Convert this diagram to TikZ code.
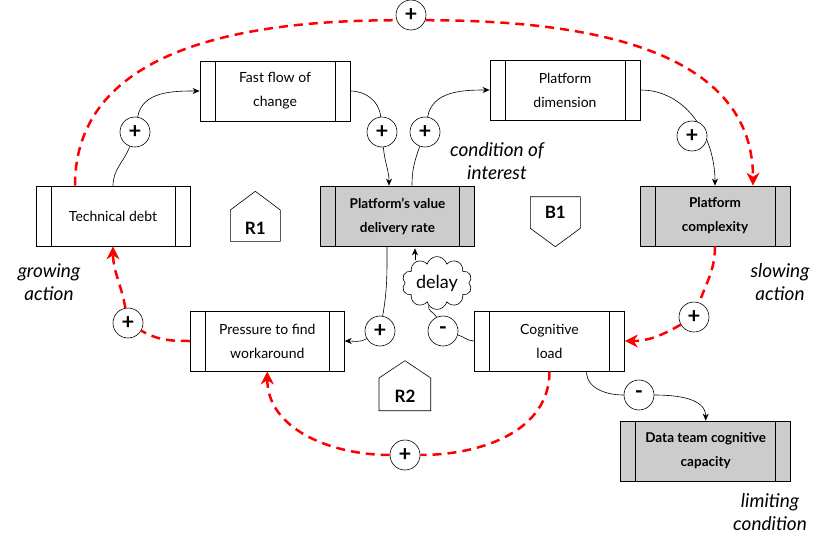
\documentclass[tikz,border=0pt]{standalone}
\usepackage{fontspec}
\setmainfont{Lato}
\usetikzlibrary{shapes.symbols,arrows.meta}
\definecolor{boxgrey}{HTML}{CCCCCC}
\tikzset{
  proc/.style={draw, thick, minimum height=60pt, inner sep=0pt, align=center,
    font=\fontsize{14}{24}\selectfont,
    path picture={\draw ([xshift=15pt]path picture bounding box.north west) -- ([xshift=15pt]path picture bounding box.south west)
      ([xshift=-15pt]path picture bounding box.north east) -- ([xshift=-15pt]path picture bounding box.south east);}},
  goal/.style={proc, fill=boxgrey, font=\bfseries\fontsize{13.5}{24}\selectfont},
  sign/.style={circle, draw, fill=white, minimum size=30pt, inner sep=0pt, font=\bfseries\fontsize{22}{22}\selectfont},
  link/.style={-{Stealth[length=7pt,width=6pt]}},
  push/.style={red, line width=2.5pt, dash pattern=on 9pt off 6pt, -{Stealth[length=13pt,width=13pt]}},
  pushline/.style={red, line width=2.5pt, dash pattern=on 9pt off 6pt},
  remark/.style={align=center, font=\itshape\fontsize{19}{23}\selectfont},
  loopname/.style={font=\bfseries\fontsize{17}{17}\selectfont}
}

\begin{document}
\begin{tikzpicture}[x=1pt, y=-1pt, semithick]
\useasboundingbox (0,0) rectangle (828,536);
% Variables
    \node[proc, minimum width=154pt] (td) at (113,216) {Technical debt};
    \node[proc, minimum width=150pt] (ff) at (275,91) {Fast flow of\\change};
    \node[proc, minimum width=150pt] (pd) at (565,90) {Platform\\dimension};
    \node[goal, minimum width=154pt] (pvdr) at (397.5,216) {Platform's value\\delivery rate};
    \node[goal, minimum width=150pt] (pc) at (715,216) {Platform\\complexity};
    \node[proc, minimum width=154pt] (pr) at (267.3,341) {Pressure to find\\workaround};
    \node[proc, minimum width=150pt] (cl) at (549.5,341) {Cognitive\\load};
    \node[goal, minimum width=170pt] (dt) at (705.7,451) {Data team cognitive\\capacity};
% Delay
    \node[cloud, cloud puffs=10, aspect=1.45, draw, fill=white, minimum width=70pt, minimum height=50pt,
      inner sep=0pt, font=\fontsize{18}{18}\selectfont] (delay) at (437,283) {delay};
% Polarities
    \node[sign] (s0) at (411,15) {+};
    \node[sign] (s1) at (135,132) {+};
    \node[sign] (s2) at (382,132) {+};
    \node[sign] (s3) at (425,132) {+};
    \node[sign] (s5) at (380,331) {+};
    \node[sign] (s6) at (443,331) {-};
    \node[sign] (s7) at (405,455) {+};
    \node[sign] (s8) at (128,323) {+};
    \node[sign] (s9) at (694,317) {+};
    \node[sign] (s10) at (639,395) {-};
% Links
    \draw (td.north) to[out=90,in=-110] (s1);
    \draw[link] (s1) to[out=80,in=180] (ff.west);
    \draw (ff.east) to[out=0,in=95] (s2);
    \draw[link] (s2) to[out=-85,in=90] ([xshift=-8.5pt]pvdr.north);
    \draw ([xshift=14.5pt]pvdr.north) to[out=90,in=-110] (s3);
    \draw[link] (s3) to[out=80,in=180] (pd.west);
    \draw[link] (pd.east) to[out=0,in=90] (pc.north);
    \draw ([xshift=-10.5pt]pvdr.south) to[out=-90,in=80] (s5);
    \draw[link] (s5) to[out=-150,in=0] (pr.east);
    \draw (cl.west) to[out=180,in=-15] (s6);
    \draw (s6) to[out=115,in=-110] (delay);
    \draw[link] ([xshift=-22pt,yshift=-4pt]delay.north) -- ([xshift=17.5pt,yshift=-2pt]pvdr.south);
    \draw ([xshift=37pt]cl.south) to[out=-90,in=180] (s10);
    \draw[link] (s10) to[out=0,in=90] (dt.north);
    \node[sign] (s4) at (692,136) {+};
% Red dashed links
    \draw[pushline] ([xshift=-38pt]td.north) to[out=90,in=180] (s0.200);
    \draw[push] (s0.-20) to[out=0,in=90] ([xshift=38pt]pc.north);
    \draw[pushline] (pc.south) to[out=-90,in=70] (s9);
    \draw[push] (s9) to[out=-150,in=0] (cl.east);
    \draw[pushline] (cl.south) to[out=-90,in=0] (s7);
    \draw[push] (s7) to[out=180,in=-90] (pr.south);
    \draw[pushline] (pr.west) to[out=180,in=-30] (s8);
    \draw[push] (s8) to[out=100,in=-90] (td.south);
% Loops
    \draw (230.3,241.3) -- (230.3,210) -- (255.3,191.3) -- (280.3,210) -- (280.3,241.3) -- cycle;
    \node[loopname] (r1) at (255.3,228) {R1};
    \draw (530.3,196.7) -- (580.3,196.7) -- (580.3,228.3) -- (555.3,246.7) -- (530.3,228.3) -- cycle;
    \node[loopname] (b1) at (555.3,212) {B1};
    \draw (379,410.7) -- (379,378) -- (405,360.7) -- (430.7,378) -- (430.7,410.7) -- cycle;
    \node[loopname] (r2) at (405,396) {R2};
% Remarks
    \node[remark] (cond) at (497,161.5) {condition of\\interest};
    \node[remark] (grow) at (49,282.5) {growing\\action};
    \node[remark] (slow) at (780,282.5) {slowing\\action};
    \node[remark] (limit) at (770,512.5) {limiting\\condition};
\end{tikzpicture}
\end{document}
